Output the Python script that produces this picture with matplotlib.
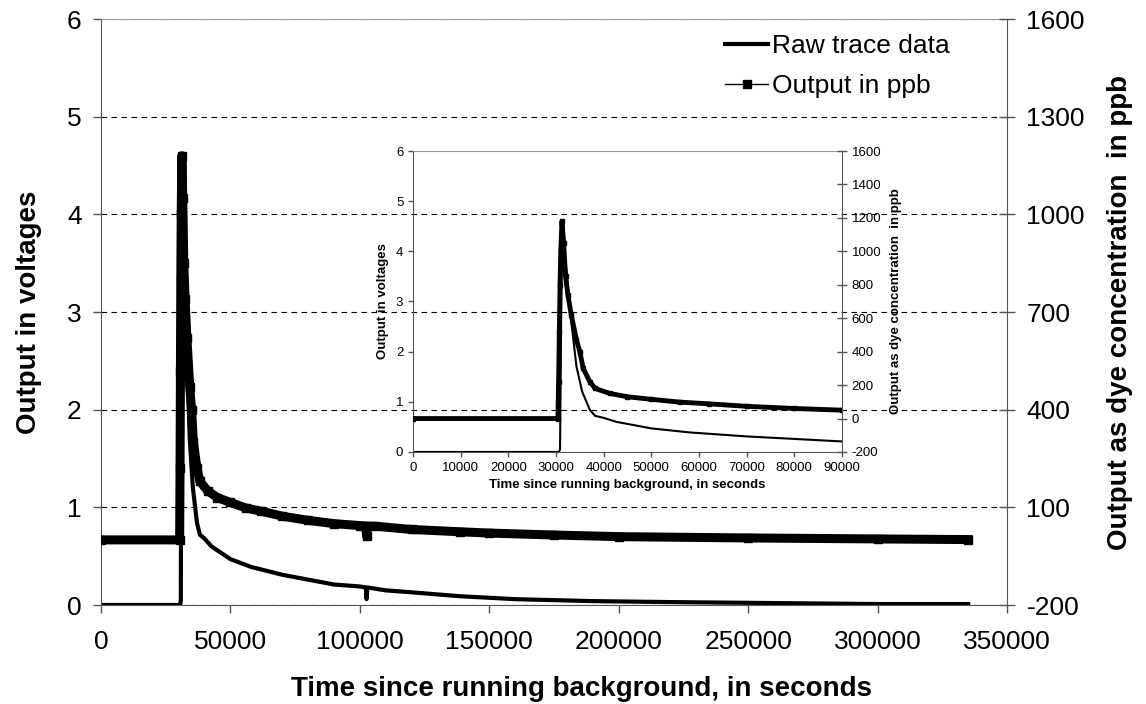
import numpy as np
import matplotlib
matplotlib.use("Agg")
import matplotlib.pyplot as plt
from matplotlib.lines import Line2D
from matplotlib.ticker import FormatStrFormatter

plt.rcParams['font.family'] = ['Liberation Sans', 'DejaVu Sans']

# raw fluorometer trace, volts
raw_time = [0, 30600, 30850, 31250, 32300, 33200, 34300, 35500, 37100, 38200,
            40000, 42700, 50000, 58000, 70000, 80000, 90000, 100000, 102300,
            102600, 102900, 110000, 120000, 138700, 160000, 190000, 220000,
            260000, 300000, 335000]
raw_volts = [0, 0, 0.05, 4.59, 3.5, 2.6, 1.7, 1.2, 0.84, 0.72,
             0.68, 0.60, 0.47, 0.39, 0.31, 0.26, 0.21, 0.19, 0.18,
             0.06, 0.18, 0.15, 0.13, 0.09, 0.06, 0.04, 0.03,
             0.02, 0.01, 0.01]

# converted dye concentration, ppb
ppb_time = [0, 30400, 30550, 30700, 30850, 31000, 31250, 31600, 32000, 32500,
            33200, 34300, 35000, 35700, 37100, 38200, 41300, 45000, 50000,
            56000, 62000, 70000, 80000, 90000, 100000, 102300, 102600, 102900,
            106000, 120000, 138700, 150000, 175000, 200000, 250000, 300000, 335000]
ppb_vals = [0, 0, 220, 520, 800, 1000, 1180, 1050, 850, 740,
            620, 470, 400, 300, 220, 180, 150, 130, 115,
            98, 88, 73, 60, 50, 44, 42, 12, 42,
            42, 32, 25, 21, 15, 10, 6, 3, 1]

volt_ticks = [0, 1, 2, 3, 4, 5, 6]
ppb_ticks_main = [-200, 100, 400, 700, 1000, 1300, 1600]
ppb_ticks_inset = [-200, 0, 200, 400, 600, 800, 1000, 1200, 1400, 1600]
time_ticks_main = [0, 50000, 100000, 150000, 200000, 250000, 300000, 350000]
time_ticks_inset = [0, 10000, 20000, 30000, 40000, 50000, 60000, 70000, 80000, 90000]

xlabel = 'Time since running background, in seconds'
ylabel_left = 'Output in voltages'
ylabel_right = 'Output as dye concentration  in ppb'

spine_col = '#555555'


def style_axes(a, a2, fs, tick_len, grid):
    for s in ['left', 'bottom']:
        a.spines[s].set_color(spine_col)
    a.spines['top'].set_color('#999999')
    a.spines['right'].set_visible(False)
    for s in ['left', 'bottom', 'top']:
        a2.spines[s].set_visible(False)
    a2.spines['right'].set_color(spine_col)
    a.tick_params(axis='both', direction='out', length=tick_len, color=spine_col,
                  labelsize=fs, width=1)
    a2.tick_params(axis='y', direction='inout', length=tick_len * 2, color=spine_col,
                   labelsize=fs, width=1)
    a.xaxis.set_major_formatter(FormatStrFormatter('%d'))
    a.yaxis.set_major_formatter(FormatStrFormatter('%d'))
    a2.yaxis.set_major_formatter(FormatStrFormatter('%d'))
    if grid:
        a.yaxis.grid(True, color='black', linestyle=(0, (5, 4)), linewidth=0.8)
        a.set_axisbelow(True)


fig = plt.figure(figsize=(11.46, 7.04), dpi=100)

# main chart
ax = fig.add_axes([0.0881, 0.1406, 0.7906, 0.8324])
ax2 = ax.twinx()
ax.plot(raw_time, raw_volts, color='black', lw=3, solid_joinstyle='round')
ax2.plot(ppb_time, ppb_vals, color='black', lw=6.5, marker='s', ms=6,
         solid_joinstyle='round')
ax.set_xlim(0, 350000)
ax.set_ylim(0, 6)
ax2.set_ylim(-200, 1600)
ax.set_xticks(time_ticks_main)
ax.set_yticks(volt_ticks)
ax2.set_yticks(ppb_ticks_main)
style_axes(ax, ax2, 19, 6, True)
ax.tick_params(axis='x', pad=12)
ax.tick_params(axis='y', pad=8)
ax2.tick_params(axis='y', pad=8)
ax.set_xlabel(xlabel, fontsize=20, fontweight='bold', labelpad=16)
ax.xaxis.label.set_x(0.53)
ax.set_ylabel(ylabel_left, fontsize=20, fontweight='bold', labelpad=18)
ax2.set_ylabel(ylabel_right, fontsize=20, fontweight='bold', labelpad=16)

handles = [Line2D([], [], color='black', lw=3),
           Line2D([], [], color='black', lw=1, marker='s', ms=6)]
ax.legend(handles, ['Raw trace data', 'Output in ppb'], loc='upper left',
          bbox_to_anchor=(0.633, 0.952), bbox_transform=fig.transFigure,
          frameon=False, fontsize=19, handlelength=1.6, handletextpad=0.15,
          borderpad=0, borderaxespad=0, labelspacing=0.62)

# inset: first 90000 s
axin = fig.add_axes([0.3604, 0.358, 0.3743, 0.4275])
axin.patch.set_visible(False)
axin2 = axin.twinx()
axin.plot(raw_time, raw_volts, color='black', lw=1.5)
axin2.plot(ppb_time, ppb_vals, color='black', lw=3.5, marker='s', ms=3)
axin.set_xlim(0, 90000)
axin.set_ylim(0, 6)
axin2.set_ylim(-200, 1600)
axin.set_xticks(time_ticks_inset)
axin.set_yticks(volt_ticks)
axin2.set_yticks(ppb_ticks_inset)
style_axes(axin, axin2, 9.5, 3.5, False)
axin.set_xlabel(xlabel, fontsize=9.5, fontweight='bold', labelpad=4)
axin.set_ylabel(ylabel_left, fontsize=9.5, fontweight='bold', labelpad=5)
axin2.set_ylabel(ylabel_right, fontsize=9.5, fontweight='bold', labelpad=6)

fig.savefig('out.png', dpi=100)
